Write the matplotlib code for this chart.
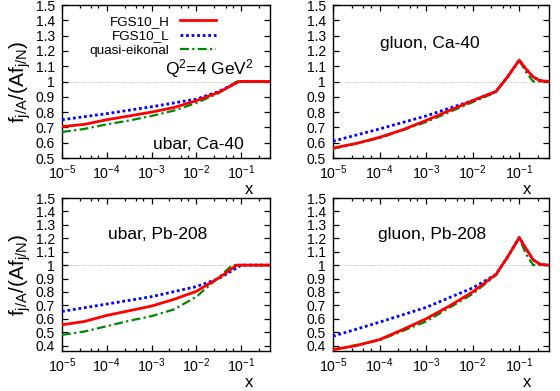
import numpy as np
import matplotlib
matplotlib.use("Agg")
import matplotlib.pyplot as plt
from matplotlib.ticker import LogLocator, NullFormatter

plt.rcParams['font.family'] = ['Liberation Sans', 'DejaVu Sans']
plt.rcParams['mathtext.fontset'] = 'custom'
plt.rcParams['mathtext.rm'] = 'Liberation Sans'
plt.rcParams['mathtext.it'] = 'Liberation Sans:italic'
plt.rcParams['mathtext.bf'] = 'Liberation Sans:bold'

# ---- data (log10 x, ratio) ----
# ubar, Ca-40
ubar_ca_H_lx = [-5, -4.5, -4, -3.5, -3, -2.5, -2, -1.5, -1.05, -0.35]
ubar_ca_H_y = [0.705, 0.72, 0.75, 0.775, 0.80, 0.83, 0.875, 0.93, 1.0, 1.0]
ubar_ca_L_lx = [-5, -4, -3, -2, -1.5, -1.05, -0.35]
ubar_ca_L_y = [0.75, 0.79, 0.835, 0.885, 0.935, 1.0, 1.0]
ubar_ca_Q_lx = [-5, -4.5, -4, -3.5, -3, -2.5, -2, -1.5, -1.1, -0.35]
ubar_ca_Q_y = [0.67, 0.69, 0.72, 0.745, 0.775, 0.81, 0.86, 0.925, 1.0, 1.0]

# gluon, Ca-40
glu_ca_H_lx = [-5, -4.5, -4, -3.5, -3, -2.5, -2, -1.5, -1.25, -1.0, -0.85, -0.7, -0.55, -0.35]
glu_ca_H_y = [0.565, 0.595, 0.635, 0.685, 0.745, 0.81, 0.875, 0.935, 1.03, 1.14, 1.08, 1.03, 1.005, 1.0]
glu_ca_L_lx = [-5, -4, -3, -2, -1.5, -1.25, -1.0, -0.85, -0.7, -0.55, -0.35]
glu_ca_L_y = [0.61, 0.69, 0.775, 0.875, 0.935, 1.03, 1.14, 1.08, 1.03, 1.005, 1.0]
glu_ca_Q_lx = [-5, -4, -3, -2, -1.5, -1.25, -1.0, -0.85, -0.7, -0.35]
glu_ca_Q_y = [0.56, 0.63, 0.735, 0.865, 0.93, 1.03, 1.14, 1.06, 1.0, 1.0]

# ubar, Pb-208
ubar_pb_H_lx = [-5, -4.5, -4, -3.5, -3, -2.5, -2, -1.5, -1.1, -0.35]
ubar_pb_H_y = [0.555, 0.58, 0.625, 0.66, 0.695, 0.745, 0.805, 0.905, 1.0, 1.0]
ubar_pb_L_lx = [-5, -4, -3, -2, -1.5, -1.0, -0.35]
ubar_pb_L_y = [0.655, 0.71, 0.765, 0.84, 0.90, 1.0, 1.0]
ubar_pb_Q_lx = [-5, -4.5, -4, -3.5, -3, -2.5, -2, -1.5, -1.2, -0.35]
ubar_pb_Q_y = [0.48, 0.505, 0.545, 0.585, 0.62, 0.67, 0.765, 0.91, 1.0, 1.0]

# gluon, Pb-208
glu_pb_H_lx = [-5, -4.5, -4, -3.5, -3, -2.5, -2, -1.5, -1.25, -1.0, -0.85, -0.7, -0.55, -0.35]
glu_pb_H_y = [0.37, 0.40, 0.445, 0.52, 0.60, 0.695, 0.80, 0.93, 1.06, 1.205, 1.12, 1.04, 1.005, 1.0]
glu_pb_L_lx = [-5, -4, -3, -2, -1.5, -1.25, -1.0, -0.85, -0.7, -0.55, -0.35]
glu_pb_L_y = [0.47, 0.575, 0.685, 0.83, 0.93, 1.06, 1.205, 1.12, 1.04, 1.005, 1.0]
glu_pb_Q_lx = [-5, -4, -3, -2, -1.5, -1.25, -1.0, -0.85, -0.7, -0.35]
glu_pb_Q_y = [0.37, 0.44, 0.58, 0.785, 0.925, 1.06, 1.2, 1.08, 1.0, 1.0]

labels = ['FGS10_H', 'FGS10_L', 'quasi-eikonal']
panel_titles = ['ubar, Ca-40', 'gluon, Ca-40', 'ubar, Pb-208', 'gluon, Pb-208']
ylabel = r'$\mathregular{f_{j/A}/(Af_{j/N})}$'
q2_text = r'Q$^\mathregular{2}$=4 GeV$^\mathregular{2}$'

W, H = 560, 391
fig = plt.figure(figsize=(W / 100, H / 100), dpi=100)

def box(l, t, r, b):
    return [l / W, 1 - b / H, (r - l) / W, (b - t) / H]

axes = [
    fig.add_axes(box(62, 5, 270, 158)),
    fig.add_axes(box(333, 5, 549, 158)),
    fig.add_axes(box(62, 198, 270, 351)),
    fig.add_axes(box(333, 198, 549, 351)),
]

panels = [
    ((ubar_ca_H_lx, ubar_ca_H_y), (ubar_ca_L_lx, ubar_ca_L_y), (ubar_ca_Q_lx, ubar_ca_Q_y)),
    ((glu_ca_H_lx, glu_ca_H_y), (glu_ca_L_lx, glu_ca_L_y), (glu_ca_Q_lx, glu_ca_Q_y)),
    ((ubar_pb_H_lx, ubar_pb_H_y), (ubar_pb_L_lx, ubar_pb_L_y), (ubar_pb_Q_lx, ubar_pb_Q_y)),
    ((glu_pb_H_lx, glu_pb_H_y), (glu_pb_L_lx, glu_pb_L_y), (glu_pb_Q_lx, glu_pb_Q_y)),
]

xmin, xmax = 1e-5, 10 ** -0.36
ylims = [(0.5, 1.5), (0.5, 1.5), (0.36, 1.5), (0.36, 1.5)]
yticks = [np.round(np.arange(0.5, 1.501, 0.1), 2), np.round(np.arange(0.5, 1.501, 0.1), 2),
          np.round(np.arange(0.4, 1.501, 0.1), 2), np.round(np.arange(0.4, 1.501, 0.1), 2)]

styles = [
    dict(color='#ff0000', lw=2.0, ls='-'),
    dict(color='#0000ff', lw=2.0, ls=(0, (1, 1))),
    dict(color='#008800', lw=1.6, ls=(0, (4, 1.5, 1, 1.5))),
]

xlab_y = [-0.205, -0.205, -0.205, -0.205]

for i, (ax, pdata) in enumerate(zip(axes, panels)):
    ax.axhline(1.0, color='#aaaaaa', lw=0.6, ls=(0, (1, 1.5)), zorder=1)
    order = [2, 1, 0] if i % 2 == 1 else [2, 0, 1]
    lines = {}
    for k in order:
        lx, yv = pdata[k]
        ln, = ax.plot(10 ** np.array(lx), yv, label=labels[k], zorder=3 + (2 - k), **styles[k])
        lines[k] = ln
    ax.set_xscale('log')
    ax.set_xlim(xmin, xmax)
    ax.set_ylim(*ylims[i])
    ax.set_yticks(yticks[i])
    ax.set_yticklabels([('%g' % v) for v in yticks[i]])
    ax.xaxis.set_major_locator(LogLocator(base=10, numticks=10))
    ax.xaxis.set_minor_locator(LogLocator(base=10, subs=[2.5, 4.5, 6.5], numticks=20))
    ax.xaxis.set_minor_formatter(NullFormatter())
    ax.tick_params(which='both', direction='in', top=True, right=True, width=0.9)
    ax.tick_params(which='major', length=4.5)
    ax.tick_params(which='minor', length=2.5)
    ax.tick_params(axis='y', pad=5, labelsize=10.0)
    ax.tick_params(axis='x', pad=3.6, labelsize=10.2)
    for s in ax.spines.values():
        s.set_linewidth(1.0)
    ax.text(0.9, xlab_y[i], 'x', transform=ax.transAxes, ha='center', va='center', fontsize=12)
    if i % 2 == 0:
        ax.set_ylabel(ylabel, fontsize=15, labelpad=2)
    if i == 0:
        handles = [lines[0], lines[1], lines[2]]
        ax.legend(handles, labels, loc='upper right', bbox_to_anchor=(0.775, 0.975),
                  frameon=False, markerfirst=False, fontsize=9.7, borderpad=0,
                  handlelength=2.7, handletextpad=0.8, labelspacing=0.15)
        ax.text(0.71, 0.585, q2_text, transform=ax.transAxes, ha='center', va='center', fontsize=12.5)

text_pos = [(0.654, 0.09), (0.45, 0.75), (0.46, 0.76), (0.46, 0.76)]
for ax, t, (tx, ty) in zip(axes, panel_titles, text_pos):
    ax.text(tx, ty, t, transform=ax.transAxes, ha='center', va='center', fontsize=12.5)

fig.savefig('out.png', dpi=100)
